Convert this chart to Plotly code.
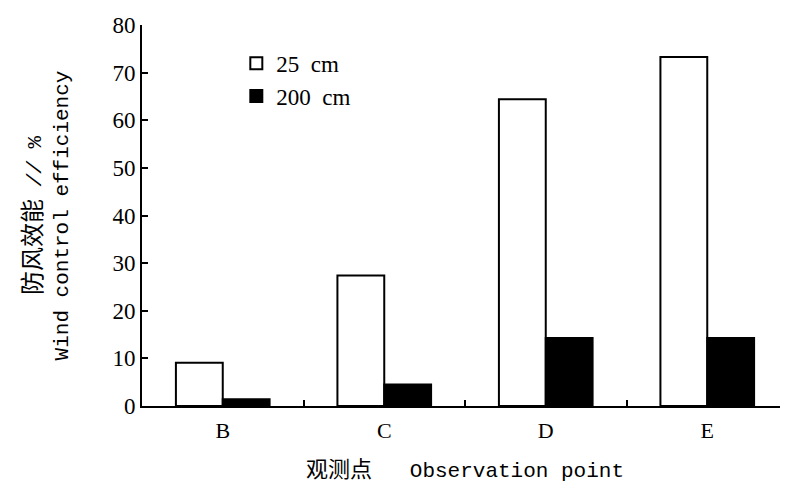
import plotly.graph_objects as go

categories = ["B", "C", "D", "E"]
eff_25cm = [9.1, 27.4, 64.4, 73.3]
eff_200cm = [1.4, 4.5, 14.3, 14.3]
series_names = ["25  cm", "200  cm"]
y_ticks = [0, 10, 20, 30, 40, 50, 60, 70, 80]

serif = "Liberation Serif, Times New Roman, serif"
mono = "Liberation Mono, Courier New, monospace"
cjk = "Noto Sans CJK SC"

fig = go.Figure()
fig.add_trace(go.Bar(x=categories, y=eff_25cm, name=series_names[0],
                     marker=dict(color="white", line=dict(color="black", width=2))))
fig.add_trace(go.Bar(x=categories, y=eff_200cm, name=series_names[1],
                     marker=dict(color="black", line=dict(color="black", width=2))))

fig.update_layout(
    width=780, height=479,
    margin=dict(l=134, r=0, t=17, b=81),
    paper_bgcolor="white", plot_bgcolor="white",
    barmode="group", bargap=0.42, bargroupgap=0,
    font=dict(family=serif, size=22, color="black"),
    showlegend=True,
    legend=dict(x=0.146, y=0.956, xanchor="left", yanchor="top",
                bgcolor="rgba(0,0,0,0)", font=dict(family=serif, size=23),
                traceorder="normal", tracegroupgap=0),
    xaxis=dict(
        showline=True, linecolor="black", linewidth=2,
        ticks="inside", tickson="boundaries", ticklen=6, tickwidth=2, tickcolor="black",
        tickfont=dict(family=serif, size=22), ticklabelstandoff=4,
        title=dict(text=f"<span style='font-family:{cjk};font-size:22px'>观测点</span>&nbsp;&nbsp;&nbsp;Observation point",
                   font=dict(family=mono, size=21), standoff=20),
        showgrid=False, zeroline=False,
    ),
    yaxis=dict(
        range=[0, 80], tickvals=y_ticks,
        showline=True, linecolor="black", linewidth=2,
        ticks="inside", ticklen=6, tickwidth=2, tickcolor="black",
        tickfont=dict(family=serif, size=23),
        title=dict(text=f"<span style='font-family:{cjk};font-size:24px'>防风效能</span> <i>//</i> %<br>Wind control efficiency",
                   font=dict(family=mono, size=21), standoff=38),
        showgrid=False, zeroline=False,
    ),
)

fig.write_html("out.html")
